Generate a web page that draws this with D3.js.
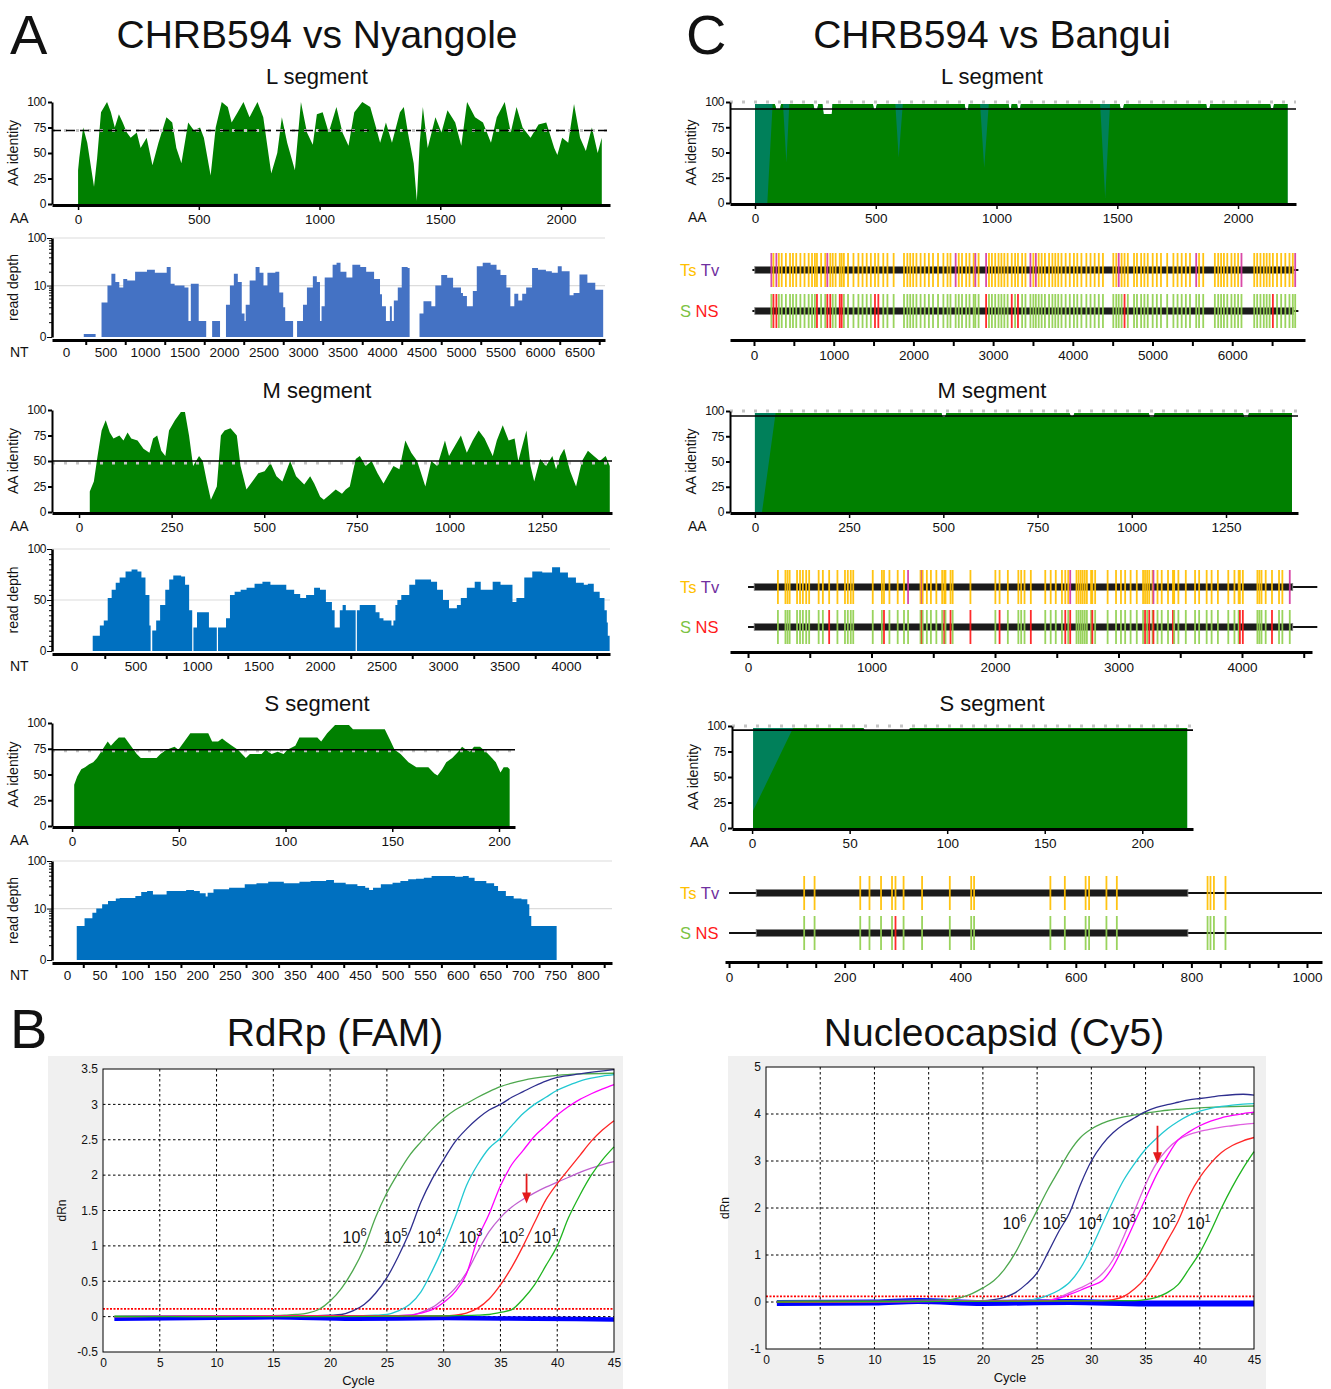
<!DOCTYPE html>
<html>
<head>
<meta charset="utf-8">
<script src="https://cdnjs.cloudflare.com/ajax/libs/d3/7.8.5/d3.min.js"></script>
<style>
  body { margin: 0; background: #fff; }
  svg { display: block; font-family: "Liberation Sans", Arial, sans-serif; }
</style>
</head>
<body>
<svg id="figure" width="1331" height="1389"></svg>
<script>
// ---------- Panel A: CHRB594 vs Nyangole  ([position, value]) ----------
const nyaLIdentity = [[0,0],[0,33],[5,45],[21,75],[38,60],[66,17],[79,45],[95,90],[120,100],[136,90],[152,75],[169,88],[185,80],[202,70],[218,65],[243,70],[259,55],[284,65],[308,38],[333,60],[366,85],[390,80],[407,55],[428,40],[456,80],[480,72],[505,75],[521,65],[549,28],[570,75],[595,100],[620,95],[636,80],[661,90],[685,100],[710,85],[743,100],[767,85],[800,30],[825,50],[844,85],[866,60],[898,33],[923,100],[948,70],[972,58],[989,88],[1013,90],[1038,70],[1070,95],[1095,70],[1120,57],[1144,90],[1177,100],[1210,95],[1234,75],[1251,60],[1275,80],[1300,60],[1333,90],[1349,95],[1366,70],[1390,40],[1403,3],[1415,60],[1428,95],[1448,55],[1480,85],[1505,70],[1530,92],[1562,80],[1587,57],[1611,100],[1644,85],[1677,80],[1710,60],[1734,85],[1767,100],[1792,70],[1816,95],[1841,75],[1874,65],[1907,78],[1939,80],[1972,55],[1985,48],[2005,65],[2030,60],[2054,98],[2079,65],[2103,52],[2128,75],[2152,50],[2169,65],[2169,0]];
const nyaLDepth = [[0,0],[225,0.15],[375,0],[450,4],[525,10],[575,18],[625,12],[675,9],[725,14],[775,13],[875,20],[1025,22],[1125,19],[1275,25],[1325,11],[1375,10],[1500,9],[1550,1.1],[1580,11],[1680,1.1],[1775,0],[1850,1.1],[1950,0],[2025,3.5],[2075,10],[2125,18],[2175,12],[2225,2],[2260,1.1],[2275,3.5],[2325,13],[2400,25],[2450,19],[2500,10],[2550,19],[2650,20],[2700,7],[2750,3],[2775,1.1],[2875,0],[2925,1.1],[3000,3.5],[3050,9],[3125,16],[3175,12],[3215,1.1],[3235,3.2],[3275,15],[3375,28],[3425,31],[3475,20],[3550,15],[3625,28],[3725,25],[3800,20],[3900,14],[3975,6.3],[4000,3.2],[4050,1.1],[4100,3.2],[4125,1.1],[4150,4.5],[4200,9],[4250,25],[4325,24],[4350,0],[4475,2],[4525,4.3],[4625,3.2],[4675,10],[4750,17],[4825,14.8],[4900,9],[5000,6.8],[5025,5.8],[5075,3.2],[5150,7.5],[5200,26],[5275,31],[5375,28],[5450,22],[5500,17],[5575,9],[5625,3.2],[5675,6.5],[5725,4.5],[5775,6.5],[5825,9],[5900,24],[5975,22],[6075,20.5],[6150,19],[6225,26],[6275,20.5],[6375,6],[6425,6.8],[6500,17.4],[6600,11.5],[6675,11.5],[6700,8],[6800,0]];
const nyaMIdentity = [[0,0],[29,0],[29,20],[40,30],[50,55],[61,80],[72,90],[83,78],[93,72],[109,75],[120,70],[131,78],[141,72],[158,70],[174,62],[190,58],[200,72],[211,75],[222,60],[233,55],[243,80],[259,90],[275,98],[286,98],[297,75],[308,45],[324,55],[334,50],[345,30],[356,12],[372,25],[383,75],[393,80],[409,82],[426,75],[436,45],[452,22],[468,30],[484,38],[501,40],[517,48],[533,35],[549,30],[570,50],[586,35],[608,27],[624,35],[635,28],[651,15],[661,12],[677,17],[693,22],[710,18],[720,22],[731,25],[747,52],[758,55],[774,45],[790,50],[806,38],[822,28],[833,35],[849,45],[865,42],[881,70],[897,58],[913,50],[935,25],[951,50],[967,45],[988,70],[999,55],[1015,65],[1031,75],[1047,58],[1063,70],[1079,80],[1095,72],[1117,55],[1128,70],[1144,85],[1160,70],[1176,72],[1186,50],[1208,80],[1219,45],[1229,30],[1245,52],[1261,45],[1278,55],[1288,42],[1299,55],[1310,62],[1326,40],[1342,25],[1358,50],[1374,60],[1390,55],[1406,50],[1422,55],[1433,45],[1433,0]];
const nyaMDepth = [[0,0],[152,15],[210,25],[242,30],[274,52],[306,60],[339,67],[371,72],[419,78],[468,80],[516,78],[548,72],[581,55],[613,25],[623,0],[636,20],[668,30],[700,45],[742,60],[774,70],[807,74],[871,73],[903,65],[936,40],[961,0],[971,23],[1000,38],[1097,23],[1161,0],[1171,23],[1236,32],[1268,55],[1306,58],[1355,60],[1403,62],[1468,66],[1532,68],[1597,65],[1726,60],[1790,56],[1839,52],[1887,55],[1952,62],[2000,60],[2048,48],[2097,40],[2119,23],[2161,40],[2184,45],[2210,40],[2290,0],[2300,40],[2323,45],[2452,38],[2484,32],[2516,30],[2581,25],[2597,30],[2613,45],[2629,50],[2661,55],[2726,65],[2774,70],[2903,68],[2952,60],[3000,50],[3049,42],[3113,45],[3145,52],[3194,62],[3258,68],[3307,60],[3404,68],[3468,65],[3532,65],[3565,48],[3597,52],[3661,72],[3726,78],[3807,77],[3887,82],[3952,77],[4016,72],[4081,67],[4145,65],[4178,66],[4226,58],[4274,52],[4313,40],[4332,28],[4340,15],[4355,0]];
const nyaSIdentity = [[1,0],[1,40],[2.4,48],[4.3,55],[6.1,57],[8,60],[9.9,62],[11.7,66],[13.6,72],[15.4,78],[16.7,82],[18.2,78],[20,82],[21.9,86],[24.7,86],[27.5,78],[30.3,70],[32.2,66],[35.9,66],[39.6,66],[41.4,70],[44.2,74],[48,77],[49.8,74],[52.6,82],[55.4,90],[58.2,90],[63.8,90],[65.6,82],[68.4,82],[70.3,85],[72.1,82],[74.9,78],[77.7,74],[79.6,70],[81.4,66],[83.3,70],[88.8,70],[90.7,74],[93.5,70],[96.3,72],[99.1,70],[100.9,74],[104.6,78],[106.5,86],[114.9,86],[116.7,82],[119.5,90],[123.2,98],[129.7,98],[131.6,94],[146.5,94],[149.3,82],[151.1,74],[153.9,70],[157.6,62],[161.3,57],[166.9,57],[169.7,51],[171.2,49],[173.4,55],[175.3,62],[178.1,66],[180.9,72],[182.7,77],[184.6,74],[186.4,72],[188.3,77],[191.1,77],[193.9,72],[196.7,66],[198.5,62],[200.7,52],[202.2,57],[204.1,57],[205,55],[205,0]];
const nyaSDepth = [[0,0],[15,3.9],[27,6],[39,8],[45,10],[54,12.4],[63,14.6],[75,16.5],[81,17],[105,18.7],[114,22.8],[123,24],[132,20.3],[153,24],[183,25],[195,24],[204,21.4],[213,18.2],[216,22],[225,26],[249,28],[273,33],[291,34.6],[309,37.5],[333,34.6],[357,37.5],[374,38.7],[398,40.7],[410,35.7],[428,33],[446,30.4],[458,28],[464,25],[470,28],[482,33],[500,35.7],[512,38.7],[524,42],[536,43.3],[548,45.5],[560,49],[584,49],[596,47.6],[608,49],[617,45.5],[626,38.7],[644,34.6],[656,30.4],[662,24],[674,18.7],[686,16.5],[698,15.9],[707,12.4],[710,6.8],[713,3.9],[752,0]];

// ---------- Panel C: CHRB594 vs Bangui ----------
const banLTeal = [[0,0],[0,98],[82,98],[88,93],[104,93],[108,98],[241,98],[246,93],[258,93],[262,98],[279,98],[284,88],[318,88],[321,98],[488,98],[492,93],[500,93],[505,98],[868,98],[872,92],[882,92],[885,98],[1050,98],[1053,94],[1060,94],[1063,98],[1085,98],[1088,94],[1098,94],[1101,98],[1510,98],[1513,94],[1525,94],[1528,98],[1868,98],[1871,94],[1882,94],[1885,98],[2133,98],[2136,94],[2146,94],[2149,98],[2205,98],[2205,0]];
const banLGreen = [[51,0],[73,98],[82,98],[88,93],[104,93],[108,98],[116,98],[130,40],[142,98],[241,98],[246,93],[258,93],[262,98],[279,98],[284,88],[318,88],[321,98],[488,98],[492,93],[500,93],[505,98],[581,98],[595,45],[612,98],[868,98],[872,92],[882,92],[885,98],[932,98],[949,35],[968,98],[1050,98],[1053,94],[1060,94],[1063,98],[1085,98],[1088,94],[1098,94],[1101,98],[1429,98],[1450,5],[1470,98],[1510,98],[1513,94],[1525,94],[1528,98],[1868,98],[1871,94],[1882,94],[1885,98],[2133,98],[2136,94],[2146,94],[2149,98],[2205,98],[2205,0]];
const banMTeal = [[0,0],[0,98],[495,98],[498,94],[505,94],[508,98],[835,98],[838,95],[845,95],[848,98],[1045,98],[1048,94],[1058,94],[1061,98],[1295,98],[1298,94],[1308,94],[1311,98],[1425,98],[1425,0]];
const banMGreen = [[19,0],[55,98],[495,98],[498,94],[505,94],[508,98],[835,98],[838,95],[845,95],[848,98],[1045,98],[1048,94],[1058,94],[1061,98],[1295,98],[1298,94],[1308,94],[1311,98],[1425,98],[1425,0]];
const banSTeal = [[0.5,0],[0.5,98],[57,98],[58,95],[80,95],[81,98],[223,98],[223,0]];
const banSGreen = [[0.5,0],[0.5,17],[21,98],[57,98],[58,95],[80,95],[81,98],[223,98],[223,0]];

// substitution sites (nt) ; Tv / NS subsets, the rest are Ts / S
const banLSites = [218,244,281,312,348,400,452,489,530,582,634,686,728,764,790,842,894,920,957,988,1024,1076,1100,1128,1180,1248,1310,1362,1414,1466,1518,1560,1622,1674,1752,1882,1924,1960,1997,2038,2090,2142,2194,2246,2309,2376,2428,2465,2530,2569,2610,2662,2704,2756,2777,2818,2912,2948,2985,3026,3068,3104,3141,3182,3234,3276,3312,3364,3406,3468,3505,3536,3572,3609,3650,3702,3744,3780,3817,3858,3910,3962,4014,4056,4108,4170,4222,4274,4326,4378,4508,4545,4576,4612,4649,4690,4768,4805,4857,4898,4940,5002,5054,5106,5184,5262,5314,5366,5418,5470,5548,5584,5636,5782,5824,5860,5896,5938,5990,6032,6074,6116,6276,6313,6354,6396,6432,6469,6510,6562,6614,6666,6718,6760,6790];
const banLTv = [218,281,920,2530,2777,2912,3468,3536,4576,5548,6116,6790];
const banLNS = [244,281,790,920,957,1076,1100,1518,1560,2912,3234,3312,4649,6510];
const banMSites = [242,303,320,337,397,421,444,471,495,572,606,657,724,785,808,832,852,1010,1084,1101,1145,1212,1263,1296,1397,1407,1414,1448,1481,1525,1572,1589,1599,1640,1657,1801,2003,2037,2104,2189,2212,2239,2290,2407,2451,2492,2542,2569,2593,2609,2660,2677,2694,2710,2727,2744,2778,2788,2811,2912,2980,3020,3054,3098,3148,3199,3215,3232,3249,3276,3283,3316,3350,3401,3441,3451,3485,3545,3620,3653,3714,3754,3805,3889,3939,3973,3983,4007,4125,4141,4158,4192,4243,4300,4327,4387];
const banMTv = [1296,1407,2609,3283,4387];
const banMNS = [657,1101,1407,1589,1640,1801,2037,2290,2569,2609,2788,3215,3249,3283,3441,3983,4007,4243];
const banSSites = [130,148,227,243,263,282,288,302,334,382,419,424,556,581,617,623,653,671,828,833,839,859];
const banSTv = [];
const banSNS = [288];

// ---------- Panel B: qPCR amplification ([cycle, dRn]) ----------
const rdrpDilutions = ['6','5','4','3','2','1'];
const rdrp1e6 = [[1,0.01],[8,0],[14,0.01],[16,0.02],[17,0.03],[18,0.05],[19,0.1],[20,0.22],[21,0.4],[22,0.65],[23,0.97],[24,1.4],[25,1.75],[26,2.03],[27,2.28],[28,2.47],[29,2.65],[30,2.8],[31,2.92],[32,3.01],[33,3.1],[34,3.18],[35,3.25],[36,3.3],[37,3.34],[38,3.37],[40,3.41],[42,3.43],[45,3.44]];
const rdrp1e5 = [[1,0],[10,0.01],[18,0.01],[20,0.02],[21,0.03],[22,0.08],[23,0.17],[24,0.33],[25,0.55],[26,0.85],[27,1.2],[28,1.62],[29,1.95],[30,2.22],[31,2.47],[32,2.65],[33,2.8],[34,2.92],[35,3.0],[36,3.1],[37,3.18],[38,3.26],[39,3.33],[40,3.38],[42,3.43],[45,3.49]];
const rdrp1e4 = [[1,0],[12,0.01],[22,0.01],[24,0.02],[25,0.03],[26,0.08],[27,0.17],[28,0.35],[29,0.65],[30,1.0],[31,1.4],[32,1.85],[33,2.15],[34,2.38],[35,2.52],[36,2.7],[37,2.87],[38,3.0],[39,3.1],[40,3.2],[41,3.27],[42,3.33],[43,3.37],[44,3.4],[45,3.42]];
const rdrp1e3 = [[1,0],[15,0.01],[25,0.01],[27,0.02],[28,0.05],[29,0.1],[30,0.2],[31,0.35],[32,0.6],[33,1.1],[34,1.45],[35,1.85],[36,2.15],[37,2.35],[38,2.55],[39,2.7],[40,2.85],[41,2.97],[42,3.07],[43,3.15],[44,3.22],[45,3.28]];
const rdrp1e3b = [[1,0],[15,0.01],[25,0.01],[27,0.02],[28,0.06],[29,0.13],[30,0.25],[31,0.4],[32,0.62],[33,0.92],[34,1.2],[35,1.4],[36,1.55],[37,1.66],[38,1.75],[39,1.83],[40,1.9],[41,1.97],[42,2.04],[43,2.1],[44,2.15],[45,2.19]];
const rdrp1e2 = [[1,0],[20,0.01],[30,0.01],[31,0.02],[32,0.05],[33,0.12],[34,0.25],[35,0.45],[36,0.7],[37,1.0],[38,1.33],[39,1.65],[40,1.88],[41,2.08],[42,2.28],[43,2.48],[44,2.64],[45,2.77]];
const rdrp1e1 = [[1,0],[20,0],[30,0.01],[33,0.02],[34,0.03],[35,0.06],[36,0.1],[37,0.25],[38,0.45],[39,0.72],[40,1.0],[41,1.4],[42,1.72],[43,2.0],[44,2.22],[45,2.4]];
const rdrpNtc = [[1,-0.03],[8,-0.02],[15,-0.01],[22,-0.03],[30,-0.02],[38,-0.03],[45,-0.04]];
const rdrpLabelCycles = [21.1, 24.7, 27.7, 31.3, 35.0, 37.9];

const cy5_1e6 = [[1,0.02],[10,0.03],[15,0.04],[17,0.05],[18,0.1],[19,0.18],[20,0.3],[21,0.45],[22,0.7],[23,1.05],[24,1.5],[25,1.95],[26,2.4],[27,2.8],[28,3.2],[29,3.5],[30,3.68],[31,3.8],[32,3.88],[33,3.94],[34,3.98],[35,4.02],[36,4.05],[37,4.08],[38,4.1],[40,4.13],[42,4.15],[45,4.17]];
const cy5_1e5 = [[1,0],[15,0.03],[20,0.03],[21,0.05],[22,0.1],[23,0.2],[24,0.38],[25,0.62],[26,1.05],[27,1.5],[28,1.9],[29,2.5],[30,3.0],[31,3.35],[32,3.6],[33,3.78],[34,3.92],[35,4.05],[36,4.14],[37,4.2],[38,4.25],[39,4.3],[40,4.33],[41,4.36],[42,4.39],[43,4.41],[44,4.42],[45,4.4]];
const cy5_1e4 = [[1,0],[20,0.02],[24,0.03],[25,0.07],[26,0.14],[27,0.25],[28,0.42],[29,0.72],[30,1.15],[31,1.65],[32,2.15],[33,2.6],[34,2.95],[35,3.25],[36,3.48],[37,3.68],[38,3.84],[39,3.97],[40,4.06],[41,4.12],[42,4.16],[43,4.19],[44,4.21],[45,4.22]];
const cy5_1e3 = [[1,0],[20,0.02],[26,0.03],[27,0.08],[28,0.16],[29,0.25],[30,0.35],[31,0.45],[32,0.75],[33,1.2],[34,1.7],[35,2.2],[36,2.7],[37,3.1],[38,3.45],[39,3.62],[40,3.75],[41,3.85],[42,3.92],[43,3.97],[44,4.01],[45,4.04]];
const cy5_1e3b = [[1,0],[20,0.02],[26,0.04],[27,0.1],[28,0.2],[29,0.3],[30,0.42],[31,0.6],[32,0.9],[33,1.4],[34,1.95],[35,2.5],[36,2.95],[37,3.25],[38,3.45],[39,3.56],[40,3.63],[41,3.68],[42,3.72],[43,3.75],[44,3.78],[45,3.8]];
const cy5_1e2 = [[1,0],[25,0.02],[31,0.03],[32,0.05],[33,0.12],[34,0.28],[35,0.52],[36,0.88],[37,1.3],[38,1.72],[39,2.25],[40,2.65],[41,2.95],[42,3.18],[43,3.33],[44,3.43],[45,3.5]];
const cy5_1e1 = [[1,0],[25,0.02],[34,0.03],[35,0.05],[36,0.1],[37,0.2],[38,0.37],[39,0.7],[40,1.05],[41,1.5],[42,2.0],[43,2.45],[44,2.85],[45,3.2]];
const cy5Ntc = [[1,-0.02],[10,-0.01],[14,0.02],[20,-0.02],[28,0],[35,-0.03],[45,-0.03]];
const cy5LabelCycles = [21.8, 25.5, 28.8, 31.9, 35.6, 38.8];

const aaTicksL = [0, 500, 1000, 1500, 2000];
const aaTicksM = [0, 250, 500, 750, 1000, 1250];
const aaTicksS = [0, 50, 100, 150, 200];
const ntLabelsL = [0,500,1000,1500,2000,2500,3000,3500,4000,4500,5000,5500,6000,6500];
const ntLabelsM = [0,500,1000,1500,2000,2500,3000,3500,4000];
const ntLabelsS = [0,50,100,150,200,250,300,350,400,450,500,550,600,650,700,750,800];

// ---------- drawing ----------
const svg = d3.select('#figure');
const FONT = '"Liberation Sans", Arial, sans-serif';
const plain = d3.format('d');

function label(x, y, str, size, opt = {}) {
  return svg.append('text')
    .attr('x', x).attr('y', y)
    .attr('font-size', size)
    .attr('text-anchor', opt.anchor || 'start')
    .attr('fill', opt.fill || '#111')
    .attr('transform', opt.rotate ? `rotate(-90, ${x}, ${y})` : null)
    .text(str);
}

function styleAxis(g, size) {
  g.attr('font-family', FONT).attr('font-size', size);
  g.selectAll('text').attr('fill', '#111');
}

function identityPlot(p) {
  const g = svg.append('g');
  const x = d3.scaleLinear().domain(p.domain).range([p.left, p.right]);
  const y = d3.scaleLinear().domain([0, 100]).range([p.bottom, p.top]);
  const area = d3.area().x(d => x(d[0])).y0(y(0)).y1(d => y(d[1]));

  p.series.forEach(s => {
    g.append('path').datum(s.data).attr('d', area).attr('fill', s.color);
  });

  g.append('line')
    .attr('x1', p.left).attr('x2', p.right)
    .attr('y1', y(p.dot)).attr('y2', y(p.dot))
    .attr('stroke', '#c4c4c4').attr('stroke-width', 3)
    .attr('stroke-dasharray', '3,9');
  g.append('line')
    .attr('x1', p.left).attr('x2', p.right)
    .attr('y1', y(p.thr)).attr('y2', y(p.thr))
    .attr('stroke', '#000').attr('stroke-width', 1.6)
    .attr('stroke-dasharray', p.dashed ? '9,5' : null);

  const ya = g.append('g')
    .attr('transform', `translate(${p.left},0)`)
    .call(d3.axisLeft(y).tickValues([0, 25, 50, 75, 100]).tickSize(4).tickSizeOuter(0).tickPadding(2));
  styleAxis(ya, 12);
  ya.select('.domain').attr('stroke-width', 2);
  ya.selectAll('.tick line').attr('stroke-width', 2);
  ya.selectAll('text').attr('letter-spacing', -0.4);

  const xa = g.append('g')
    .attr('transform', `translate(0,${p.bottom + 1})`)
    .call(d3.axisBottom(x).tickValues(p.ticks).tickSize(5).tickSizeOuter(0).tickPadding(4).tickFormat(plain));
  styleAxis(xa, 13.5);
  xa.select('.domain').attr('stroke-width', 3);
  xa.selectAll('.tick line').attr('stroke-width', 1.5);

  label(p.nameX, p.bottom + 19, 'AA', 14);
  label(p.left - 34, (p.top + p.bottom) / 2, 'AA identity', 14, { anchor: 'middle', rotate: true });
}

function depthPlot(p) {
  const g = svg.append('g');
  const x = d3.scaleLinear().domain(p.domain).range([p.left, p.right]);
  const y = (p.log ? d3.scaleSymlog().constant(1) : d3.scaleLinear())
    .domain([0, 100]).range([p.bottom, p.top]);

  p.grid.forEach(v => {
    g.append('line')
      .attr('x1', p.left).attr('x2', p.right)
      .attr('y1', y(v)).attr('y2', y(v))
      .attr('stroke', '#dcdcdc').attr('stroke-width', 1.2);
  });

  const area = d3.area().curve(d3.curveStepAfter)
    .x(d => x(d[0])).y0(y(0)).y1(d => y(d[1]));
  g.append('path').datum(p.data).attr('d', area).attr('fill', p.color);

  const minor = p.log ? [1,2,3,4,5,6,7,8,9,20,30,40,50,60,70,80,90] : d3.range(5, 100, 5);
  g.append('g')
    .attr('transform', `translate(${p.left},0)`)
    .call(d3.axisLeft(y).tickValues(minor).tickSize(3).tickFormat(''))
    .select('.domain').remove();
  const ya = g.append('g')
    .attr('transform', `translate(${p.left},0)`)
    .call(d3.axisLeft(y).tickValues(p.major).tickSize(5).tickSizeOuter(0).tickPadding(1));
  styleAxis(ya, 12);
  ya.select('.domain').attr('stroke-width', 2.5);
  ya.selectAll('text').attr('letter-spacing', -0.5);

  const ay = p.bottom + 3;
  const xt = g.append('g')
    .attr('transform', `translate(0,${ay})`)
    .call(d3.axisBottom(x).tickValues(p.labels.map(v => v + p.step / 2)).tickSize(5).tickSizeOuter(0).tickFormat(''));
  xt.select('.domain').attr('stroke-width', 3);
  xt.selectAll('.tick line').attr('stroke-width', 2);
  const xl = g.append('g')
    .attr('transform', `translate(0,${ay})`)
    .call(d3.axisBottom(x).tickValues(p.labels).tickSize(0).tickPadding(7).tickFormat(plain));
  styleAxis(xl, 13.5);
  xl.select('.domain').remove();

  label(p.nameX, ay + 17, 'NT', 14);
  label(p.left - 34, (p.top + p.bottom) / 2, 'read depth', 14, { anchor: 'middle', rotate: true });
}

function subsPlot(p) {
  const g = svg.append('g');
  const x = d3.scaleLinear().domain(p.domain).range([p.left, p.right]);
  const rows = [
    { y: p.rowY[0], color: d => p.tv.includes(d) ? '#d63aa0' : '#ffc000' },
    { y: p.rowY[1], color: d => p.ns.includes(d) ? '#ff1a1a' : '#92d050' }
  ];
  rows.forEach(r => {
    g.append('line')
      .attr('x1', x(p.thin[0])).attr('x2', x(p.thin[1]))
      .attr('y1', r.y).attr('y2', r.y)
      .attr('stroke', '#111').attr('stroke-width', 1.8);
    g.append('rect')
      .attr('x', x(p.bar[0])).attr('y', r.y - 3.5)
      .attr('width', x(p.bar[1]) - x(p.bar[0])).attr('height', 7)
      .attr('fill', '#1b1b1b').attr('stroke', '#8a8a8a').attr('stroke-width', 0.8);
    g.selectAll(null).data(p.sites).join('line')
      .attr('x1', d => x(d)).attr('x2', d => x(d))
      .attr('y1', r.y - 17).attr('y2', r.y + 17)
      .attr('stroke', r.color).attr('stroke-width', 1.8).attr('opacity', 0.92);
  });

  const xa = g.append('g')
    .attr('transform', `translate(0,${p.axisY})`)
    .call(d3.axisBottom(x).tickValues(p.ticks).tickSize(6).tickSizeOuter(0).tickPadding(4)
      .tickFormat(d => d % p.labelStep === 0 ? d : ''));
  styleAxis(xa, 13.5);
  xa.select('.domain').attr('stroke-width', 3);
  xa.selectAll('.tick line').attr('stroke-width', 2);

  const t1 = svg.append('text').attr('x', 680).attr('y', p.rowY[0] + 6).attr('font-size', 16.5);
  t1.append('tspan').attr('fill', '#ffc000').text('Ts ');
  t1.append('tspan').attr('fill', '#7030a0').text('Tv');
  const t2 = svg.append('text').attr('x', 680).attr('y', p.rowY[1] + 6).attr('font-size', 16.5);
  t2.append('tspan').attr('fill', '#7cc243').text('S ');
  t2.append('tspan').attr('fill', '#ff1a1a').text('NS');
}

function qpcrPlot(p) {
  const g = svg.append('g');
  g.append('rect')
    .attr('x', p.bg[0]).attr('y', p.bg[1]).attr('width', p.bg[2]).attr('height', p.bg[3])
    .attr('fill', '#f0f0f0');
  const x = d3.scaleLinear().domain([0, 45]).range([p.left, p.right]);
  const y = d3.scaleLinear().domain(p.yDomain).range([p.bottom, p.top]);
  g.append('rect')
    .attr('x', p.left).attr('y', p.top)
    .attr('width', p.right - p.left).attr('height', p.bottom - p.top)
    .attr('fill', '#fff');

  const xt = d3.range(0, 46, 5);
  xt.slice(1, -1).forEach(c => {
    g.append('line').attr('x1', x(c)).attr('x2', x(c)).attr('y1', p.top).attr('y2', p.bottom)
      .attr('stroke', '#000').attr('stroke-width', 1).attr('stroke-dasharray', '2.5,2.5');
  });
  p.yTicks.slice(1, -1).forEach(v => {
    g.append('line').attr('x1', p.left).attr('x2', p.right).attr('y1', y(v)).attr('y2', y(v))
      .attr('stroke', '#000').attr('stroke-width', 1).attr('stroke-dasharray', '2.5,2.5');
  });

  g.append('line').attr('x1', p.left).attr('x2', p.right)
    .attr('y1', y(p.threshold)).attr('y2', y(p.threshold))
    .attr('stroke', '#ff0000').attr('stroke-width', 1.6).attr('stroke-dasharray', '2,1.5');

  const line = d3.line().curve(d3.curveMonotoneX).x(d => x(d[0])).y(d => y(d[1]));
  g.append('path').datum(p.ntc).attr('d', line)
    .attr('fill', 'none').attr('stroke', '#0000ff').attr('stroke-width', p.ntcWidth);
  p.curves.forEach(c => {
    g.append('path').datum(c.data).attr('d', line)
      .attr('fill', 'none').attr('stroke', c.color).attr('stroke-width', 1.3);
  });

  g.append('rect')
    .attr('x', p.left).attr('y', p.top)
    .attr('width', p.right - p.left).attr('height', p.bottom - p.top)
    .attr('fill', 'none').attr('stroke', '#000').attr('stroke-width', 1);

  rdrpDilutions.forEach((e, i) => {
    const t = g.append('text').attr('x', x(p.labelCycles[i])).attr('y', y(p.labelValue))
      .attr('font-size', 16).attr('fill', '#111');
    t.append('tspan').text('10');
    t.append('tspan').attr('dy', -7).attr('font-size', 11).text(e);
  });

  const ax = x(p.arrow[0]);
  g.append('line').attr('x1', ax).attr('x2', ax).attr('y1', y(p.arrow[1])).attr('y2', y(p.arrow[2]) - 9)
    .attr('stroke', '#e41a1c').attr('stroke-width', 1.8);
  g.append('path')
    .attr('d', `M${ax - 4.5},${y(p.arrow[2]) - 11}L${ax + 4.5},${y(p.arrow[2]) - 11}L${ax},${y(p.arrow[2])}Z`)
    .attr('fill', '#e41a1c');

  const ya = g.append('g').attr('transform', `translate(${p.left},0)`)
    .call(d3.axisLeft(y).tickValues(p.yTicks).tickSize(0).tickPadding(5).tickFormat(d => String(d)));
  styleAxis(ya, 12);
  ya.select('.domain').remove();
  const xa = g.append('g').attr('transform', `translate(0,${p.bottom})`)
    .call(d3.axisBottom(x).tickValues(xt).tickSize(0).tickPadding(6));
  styleAxis(xa, 12);
  xa.select('.domain').remove();

  label((p.left + p.right) / 2, p.bottom + 33, 'Cycle', 13, { anchor: 'middle' });
  label(p.left - 37, (p.top + p.bottom) / 2, 'dRn', 12, { anchor: 'middle', rotate: true });
}

// ---------- titles ----------
label(10, 54, 'A', 56);
label(686, 54, 'C', 56);
label(10, 1048, 'B', 56);
label(317, 48, 'CHRB594 vs Nyangole', 39, { anchor: 'middle' });
label(992, 48, 'CHRB594 vs Bangui', 39, { anchor: 'middle' });
label(335, 1046, 'RdRp (FAM)', 39, { anchor: 'middle' });
label(994, 1046, 'Nucleocapsid (Cy5)', 39, { anchor: 'middle' });
[[84, 'L segment'], [398, 'M segment'], [711, 'S segment']].forEach(([yy, s]) => {
  label(317, yy, s, 22, { anchor: 'middle' });
  label(992, yy, s, 22, { anchor: 'middle' });
});

// ---------- Panel A ----------
identityPlot({ left: 52, right: 610, top: 102, bottom: 204, domain: [-108, 2203], ticks: aaTicksL,
  series: [{ data: nyaLIdentity, color: '#008000' }], thr: 72, dot: 72, dashed: true, nameX: 10 });
depthPlot({ left: 52, right: 605, top: 238, bottom: 337, domain: [-177, 6823], log: true,
  major: [0, 10, 100], grid: [10, 100], data: nyaLDepth, color: '#4472c4',
  labels: ntLabelsL, step: 500, nameX: 10 });
identityPlot({ left: 52, right: 612, top: 410, bottom: 512, domain: [-73, 1439], ticks: aaTicksM,
  series: [{ data: nyaMIdentity, color: '#008000' }], thr: 50, dot: 48, nameX: 10 });
depthPlot({ left: 52, right: 610, top: 549, bottom: 651, domain: [-179, 4358], log: false,
  major: [0, 50, 100], grid: [50, 100], data: nyaMDepth, color: '#0070c0',
  labels: ntLabelsM, step: 500, nameX: 10 });
identityPlot({ left: 52, right: 515, top: 723, bottom: 826, domain: [-9.4, 207.5], ticks: aaTicksS,
  series: [{ data: nyaSIdentity, color: '#008000' }], thr: 74, dot: 73, nameX: 10 });
depthPlot({ left: 52, right: 612, top: 861, bottom: 960, domain: [-23, 837], log: true,
  major: [0, 10, 100], grid: [10, 100], data: nyaSDepth, color: '#0070c0',
  labels: ntLabelsS, step: 50, nameX: 10 });

// ---------- Panel C ----------
identityPlot({ left: 730, right: 1296, top: 102, bottom: 203, domain: [-103.5, 2240], ticks: aaTicksL,
  series: [{ data: banLTeal, color: '#00805a' }, { data: banLGreen, color: '#008000' }],
  thr: 93, dot: 100, nameX: 688 });
subsPlot({ left: 730, right: 1305, domain: [-301, 6913], rowY: [270, 311], axisY: 340,
  thin: [-20, 6830], bar: [10, 6770], sites: banLSites, tv: banLTv, ns: banLNS,
  ticks: d3.range(0, 7000, 500), labelStep: 1000 });
identityPlot({ left: 730, right: 1298, top: 411, bottom: 512, domain: [-66, 1441], ticks: aaTicksM,
  series: [{ data: banMTeal, color: '#00805a' }, { data: banMGreen, color: '#008000' }],
  thr: 95, dot: 100, nameX: 688 });
subsPlot({ left: 730, right: 1312, domain: [-146, 4567], rowY: [587, 627], axisY: 652,
  thin: [0, 4610], bar: [50, 4411], sites: banMSites, tv: banMTv, ns: banMNS,
  ticks: d3.range(0, 4600, 500), labelStep: 1000 });
identityPlot({ left: 732, right: 1193, top: 726, bottom: 828, domain: [-10.3, 226], ticks: aaTicksS,
  series: [{ data: banSTeal, color: '#00805a' }, { data: banSGreen, color: '#008000' }],
  thr: 96, dot: 100, nameX: 690 });
subsPlot({ left: 725, right: 1322, domain: [-7, 1026], rowY: [893, 933], axisY: 962,
  thin: [0, 1026], bar: [47, 794], sites: banSSites, tv: banSTv, ns: banSNS,
  ticks: d3.range(0, 1001, 50), labelStep: 200 });

// ---------- Panel B ----------
qpcrPlot({ bg: [48, 1056, 575, 333], left: 103, right: 614, top: 1069, bottom: 1352,
  yDomain: [-0.5, 3.5], yTicks: [-0.5, 0, 0.5, 1, 1.5, 2, 2.5, 3, 3.5], threshold: 0.11,
  ntc: rdrpNtc, ntcWidth: 4.5,
  curves: [
    { data: rdrp1e6, color: '#4ea84e' }, { data: rdrp1e5, color: '#2e2e8e' },
    { data: rdrp1e4, color: '#22c8d2' }, { data: rdrp1e3b, color: '#c060d0' },
    { data: rdrp1e3, color: '#ff00ff' }, { data: rdrp1e2, color: '#ff2626' },
    { data: rdrp1e1, color: '#1fb41f' }],
  labelCycles: rdrpLabelCycles, labelValue: 1.04, arrow: [37.3, 2.02, 1.6] });
qpcrPlot({ bg: [728, 1056, 538, 333], left: 766, right: 1254, top: 1067, bottom: 1349,
  yDomain: [-1, 5], yTicks: [-1, 0, 1, 2, 3, 4, 5], threshold: 0.12,
  ntc: cy5Ntc, ntcWidth: 6,
  curves: [
    { data: cy5_1e6, color: '#4ea84e' }, { data: cy5_1e5, color: '#2e2e8e' },
    { data: cy5_1e4, color: '#22c8d2' }, { data: cy5_1e3b, color: '#e060e0' },
    { data: cy5_1e3, color: '#ff00ff' }, { data: cy5_1e2, color: '#ff2626' },
    { data: cy5_1e1, color: '#1fb41f' }],
  labelCycles: cy5LabelCycles, labelValue: 1.55, arrow: [36.1, 3.75, 2.95] });
</script>
</body>
</html>
